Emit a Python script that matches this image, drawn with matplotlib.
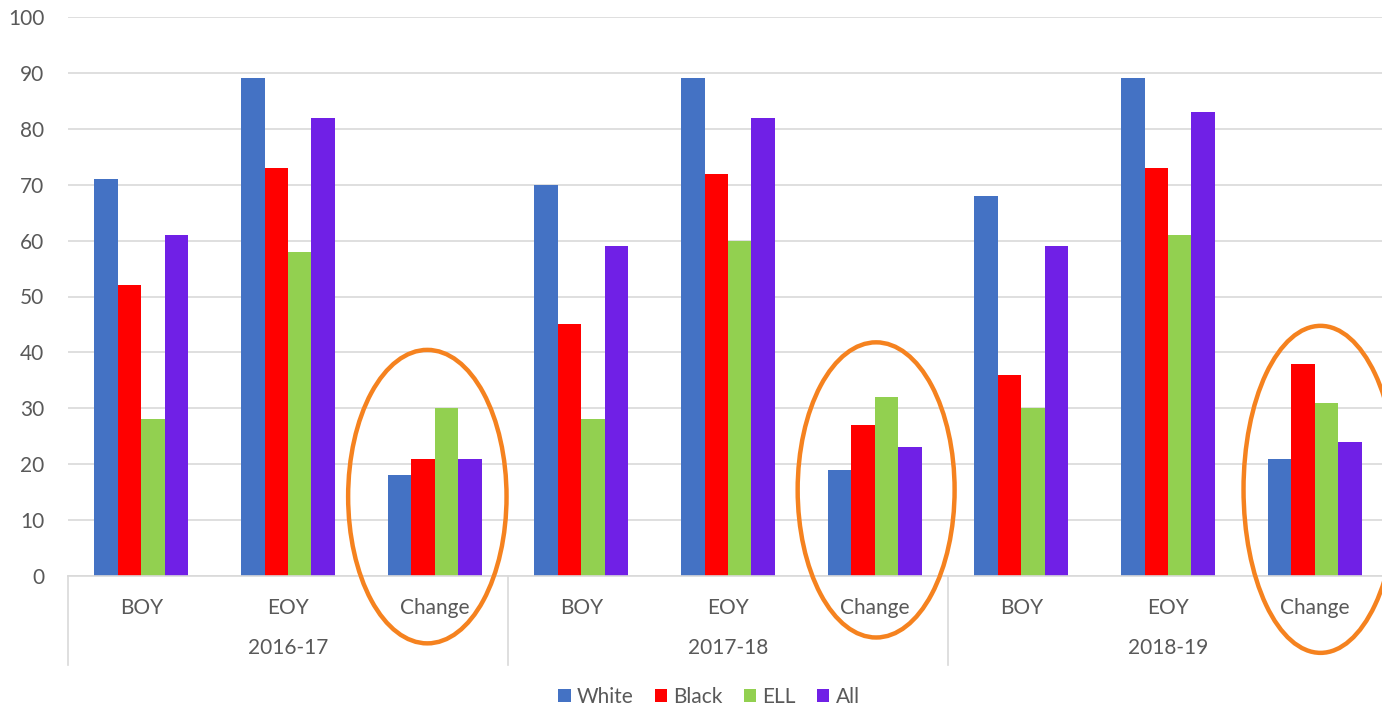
import matplotlib
matplotlib.use("Agg")
import matplotlib.pyplot as plt
import numpy as np
from matplotlib.patches import Ellipse
from matplotlib.transforms import blended_transform_factory

# reading scores by period and subgroup
years = ["2016-17", "2017-18", "2018-19"]
periods = ["BOY", "EOY", "Change"]
groups = ["White", "Black", "ELL", "All"]

white = [71, 89, 18, 70, 89, 19, 68, 89, 21]
black = [52, 73, 21, 45, 72, 27, 36, 73, 38]
ell = [28, 58, 30, 28, 60, 32, 30, 61, 31]
all_students = [61, 82, 21, 59, 82, 23, 59, 83, 24]

colors = ["#4472C4", "#FF0000", "#92D050", "#7020E6"]
text_color = "#595959"
line_color = "#D9D9D9"
ring_color = "#F5821F"

plt.rcParams["font.family"] = ["Lato", "DejaVu Sans"]

fig = plt.figure(figsize=(13.82, 7.12), dpi=100)
ax = fig.add_axes([68 / 1382, 1 - 576 / 712, 1320 / 1382, (576 - 17) / 712])

labels = periods * len(years)
x = np.arange(len(labels))
width = 0.16
series = [white, black, ell, all_students]
for j, (vals, name) in enumerate(zip(series, groups)):
    ax.bar(x + (j - 1.5) * width, vals, width, color=colors[j], label=name, zorder=2)

ax.set_xlim(-0.5, len(labels) - 0.5)
ax.set_ylim(0, 100)
ax.set_yticks(np.arange(0, 101, 10))
ax.yaxis.grid(True, color=line_color, linewidth=1.2, zorder=0)
ax.set_axisbelow(True)

for side in ["top", "right", "left"]:
    ax.spines[side].set_visible(False)
ax.spines["bottom"].set_color(line_color)
ax.spines["bottom"].set_linewidth(1.2)

ax.set_xticks(x)
ax.set_xticklabels(labels)
ax.tick_params(axis="x", length=0, pad=16, labelsize=15, labelcolor=text_color)
ax.tick_params(axis="y", length=0, pad=17, labelsize=15, labelcolor=text_color)

# second level of the category axis: year labels and separators
trans = blended_transform_factory(ax.transData, ax.transAxes)
for k, year in enumerate(years):
    ax.text(3 * k + 1, -0.128, year, transform=trans, ha="center", va="center",
            fontsize=15, color=text_color)
for xs in np.arange(-0.5, len(labels), 3):
    ax.plot([xs, xs], [0, -0.159], transform=trans, color=line_color,
            linewidth=1.2, clip_on=False)

# rings around the change columns
rings = [(1.95, 14.2, 1.08, 52.5), (5.01, 15.4, 1.07, 52.8), (8.04, 15.5, 1.05, 58.5)]
for xc, yc, w, h in rings:
    ax.add_patch(Ellipse((xc, yc), w, h, fill=False, edgecolor=ring_color,
                         linewidth=3.2, clip_on=False, zorder=5))

leg = fig.legend(loc="center", bbox_to_anchor=(709 / 1382, 1 - 697 / 712), ncol=4,
                 frameon=False, fontsize=15, handlelength=0.6, handleheight=0.6,
                 handletextpad=0.3, columnspacing=1.0)
for t in leg.get_texts():
    t.set_color(text_color)

fig.savefig("out.png", dpi=100)
